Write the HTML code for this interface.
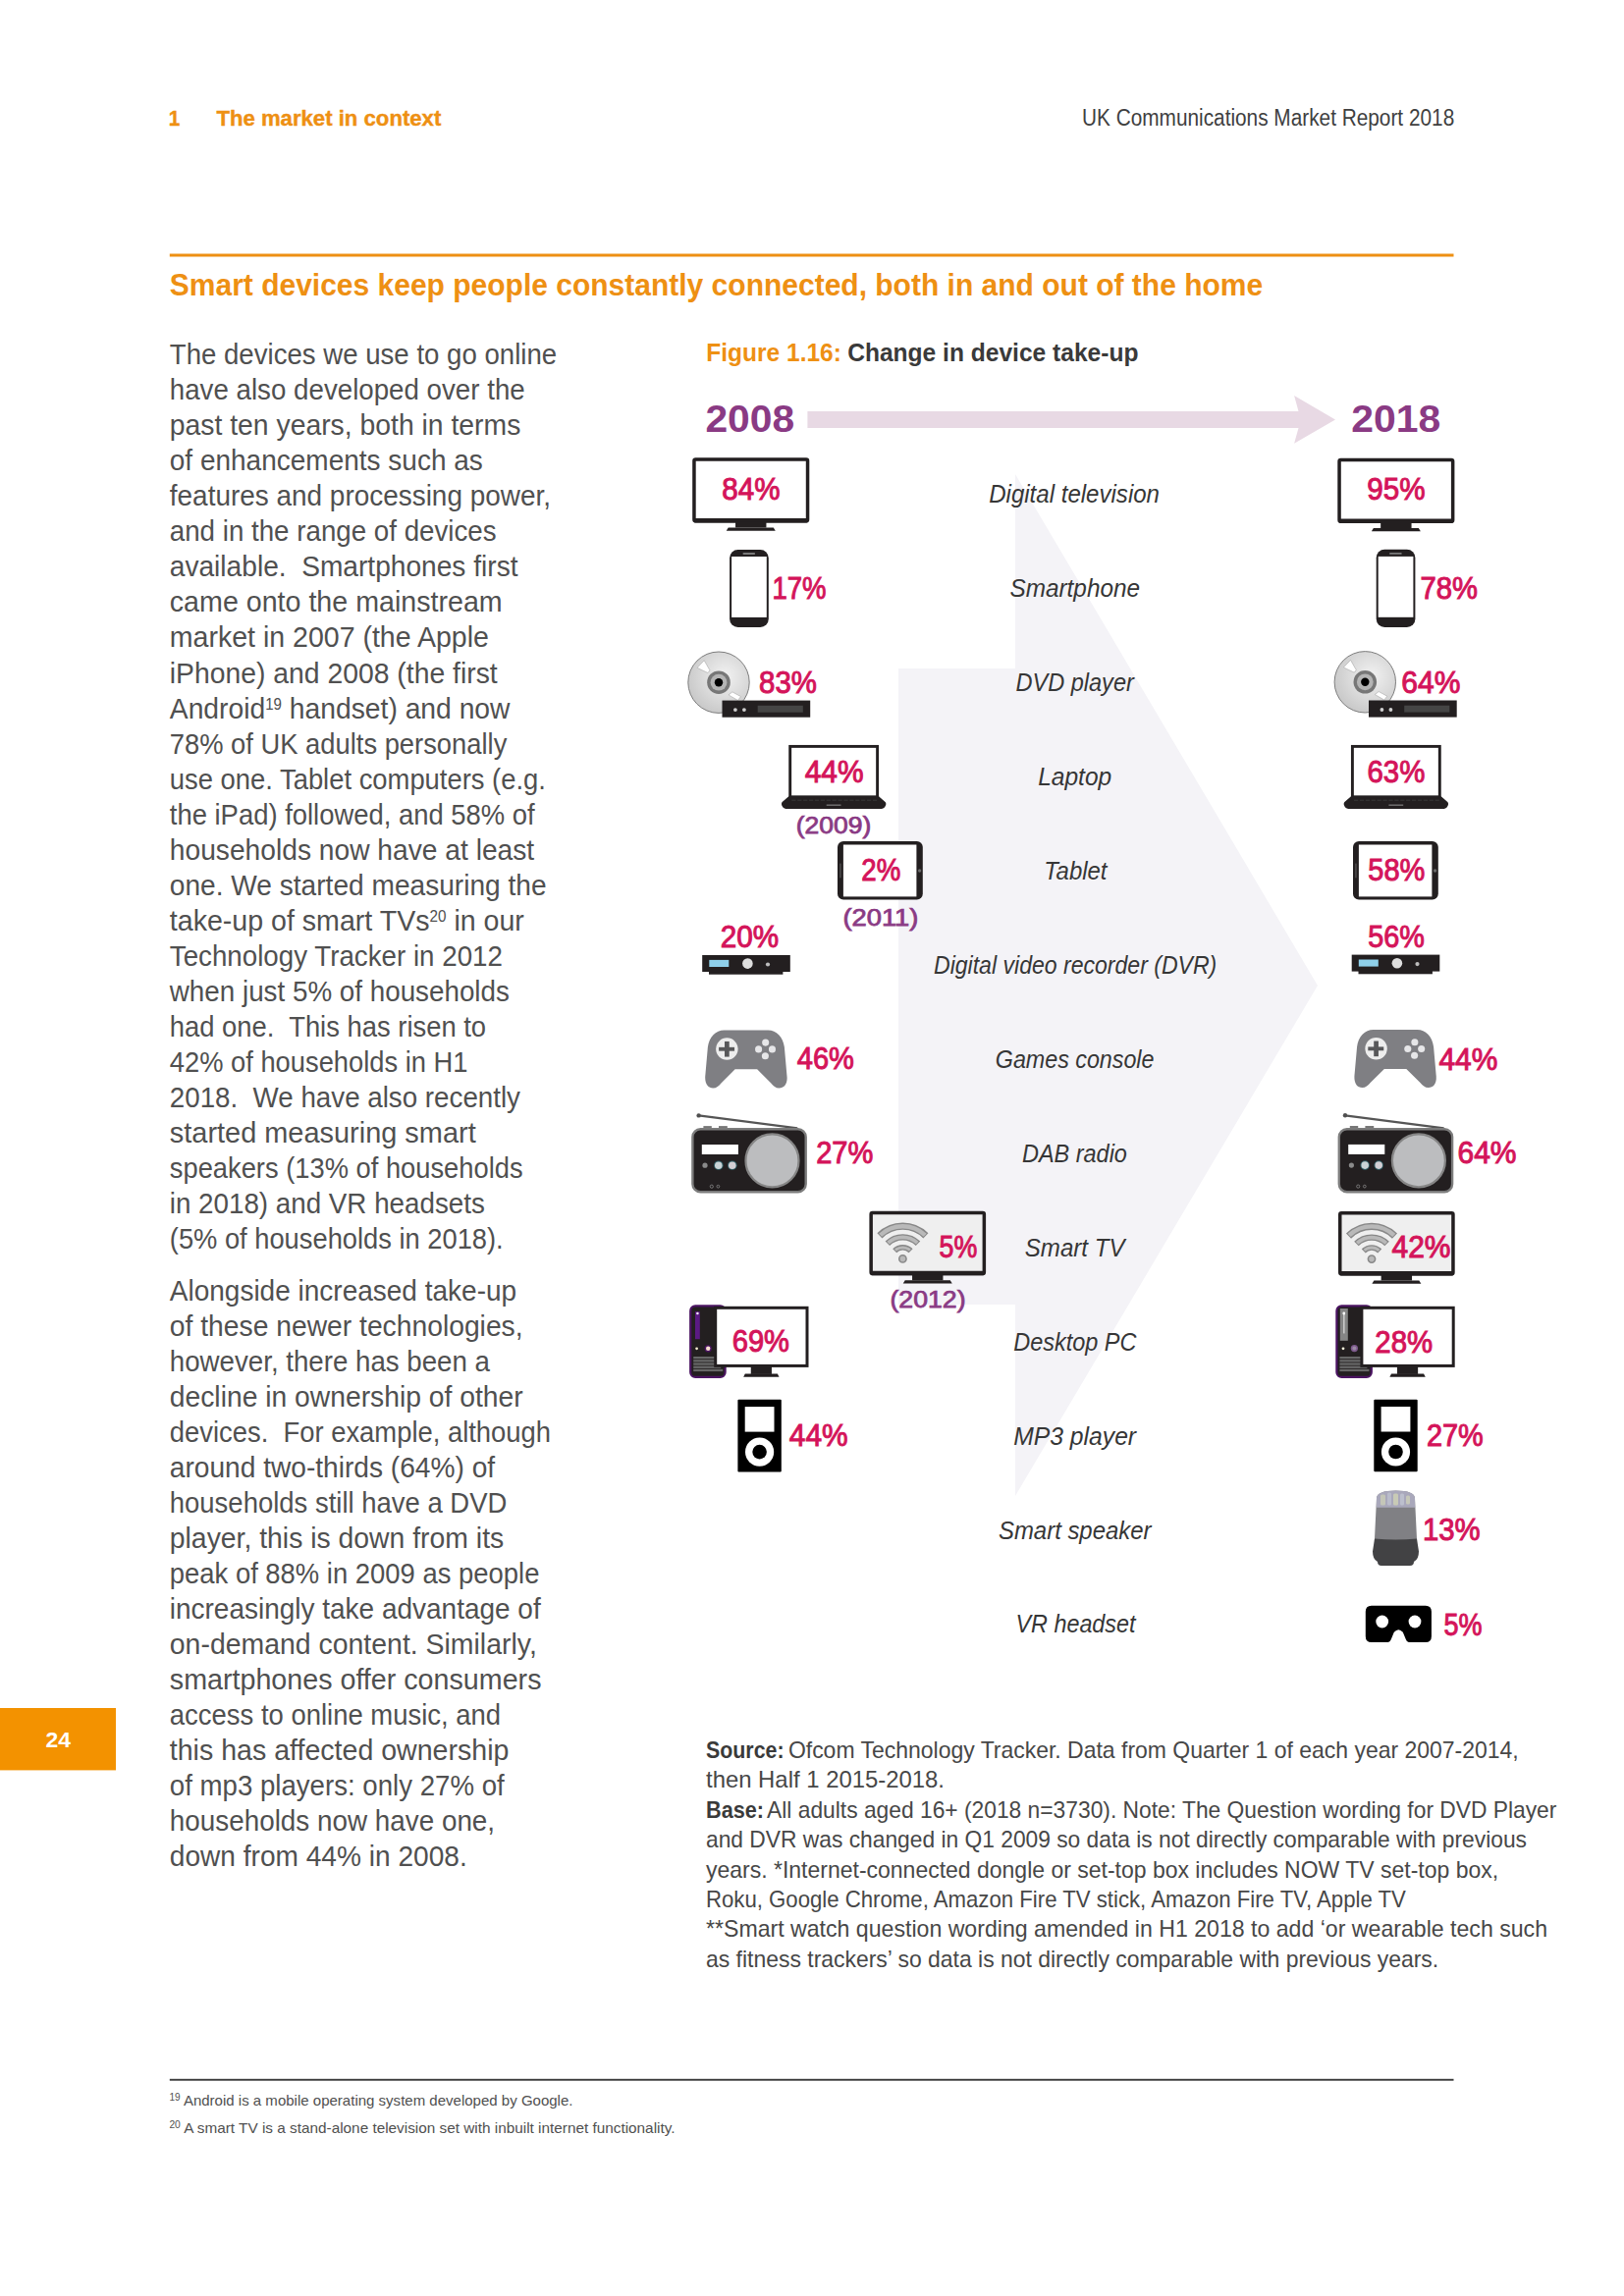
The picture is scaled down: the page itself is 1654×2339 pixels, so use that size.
<!DOCTYPE html>
<html><head><meta charset="utf-8"><title>UK Communications Market Report 2018 - page 24</title>
<style>
html,body{margin:0;padding:0;background:#ffffff;}
body{width:1654px;height:2339px;position:relative;overflow:hidden;font-family:"Liberation Sans",sans-serif;}
svg{position:absolute;left:0;top:0;}
</style></head><body>
<svg width="1654" height="2339" viewBox="0 0 1654 2339">
<defs><radialGradient id="discg" cx="0.6" cy="0.4" r="0.7"><stop offset="0" stop-color="#f2f2f2"/><stop offset="1" stop-color="#c4c4c4"/></radialGradient></defs>
<rect x="172.8" y="258.5" width="1307.7" height="3" fill="#ee9013"/>
<rect x="172.8" y="2117.8" width="1307.7" height="1.9" fill="#3a3a3a"/>
<rect x="0" y="1740" width="118" height="63.4" fill="#f39200"/>
<polygon points="1034,483 1342,1004 1034,1524 1034,1329 915,1329 915,681 1034,681" fill="#f4f3f7"/>
<polygon points="822.4,419.1 1322.5,419.1 1318.1,403.1 1360,427.5 1318.1,451.8 1322.5,436 822.4,436" fill="#e8d9e4"/>
<rect x="706.95" y="467.95" width="115.60" height="62.80" rx="1.5" fill="#ffffff" stroke="#231f20" stroke-width="3.5"/><rect x="706.70" y="527.90" width="116.10" height="4.6" rx="1" fill="#231f20"/><rect x="749.05" y="531.50" width="31.4" height="6" fill="#231f20"/><polygon points="741.75,537.50 787.75,537.50 789.75,540.80 739.75,540.80" fill="#231f20"/>
<rect x="743.10" y="559.90" width="39.7" height="79.1" rx="8.5" fill="#231f20"/><rect x="745.10" y="567.00" width="35.70" height="61.90" fill="#ffffff"/><rect x="756.50" y="563.00" width="12.6" height="1.9" rx="0.9" fill="#7a7a7a"/>
<circle cx="732.0" cy="695.2" r="31.2" fill="url(#discg)" stroke="#7d7d7d" stroke-width="1"/><polygon points="710.1,680.3000000000001 717.2,672.8000000000001 723.0,682.9000000000001 720.9,685.5" fill="#ffffff" stroke="#a8a8a8" stroke-width="0.6"/><polygon points="742.0,707.9000000000001 745.9,704.9000000000001 754.5,709.6 751.5,713.5" fill="#ffffff" stroke="#a8a8a8" stroke-width="0.6"/><circle cx="732.0" cy="695.2" r="11.8" fill="#777777"/><circle cx="732.0" cy="695.2" r="8.4" fill="#b4b4b4"/><circle cx="732.0" cy="695.2" r="4.2" fill="#000000"/><rect x="735.5" y="713.6" width="89.7" height="17.1" fill="#231f20"/><circle cx="748.90" cy="723.10" r="1.9" fill="#cfcfcf"/><circle cx="757.90" cy="723.10" r="1.9" fill="#cfcfcf"/><rect x="771.70" y="718.80" width="46.1" height="6.9" fill="#454545"/>
<rect x="804.70" y="760.40" width="88.90" height="51.40" fill="#ffffff" stroke="#231f20" stroke-width="2.9"/><path d="M803.30,811.30 L895.00,811.30 L901.60,816.90 Q903.20,818.50 901.50,821.50 Q900.00,824.10 896.00,824.10 L802.30,824.10 Q798.30,824.10 796.80,821.50 Q795.10,818.50 796.70,816.90 Z" fill="#231f20"/><rect x="806.30" y="814.70" width="4.2" height="1" fill="#3a3a3a"/><rect x="812.20" y="814.70" width="4.2" height="1" fill="#3a3a3a"/><rect x="818.10" y="814.70" width="4.2" height="1" fill="#3a3a3a"/><rect x="824.00" y="814.70" width="4.2" height="1" fill="#3a3a3a"/><rect x="829.90" y="814.70" width="4.2" height="1" fill="#3a3a3a"/><rect x="835.80" y="814.70" width="4.2" height="1" fill="#3a3a3a"/><rect x="841.70" y="814.70" width="4.2" height="1" fill="#3a3a3a"/><rect x="847.60" y="814.70" width="4.2" height="1" fill="#3a3a3a"/><rect x="853.50" y="814.70" width="4.2" height="1" fill="#3a3a3a"/><rect x="859.40" y="814.70" width="4.2" height="1" fill="#3a3a3a"/><rect x="865.30" y="814.70" width="4.2" height="1" fill="#3a3a3a"/><rect x="871.20" y="814.70" width="4.2" height="1" fill="#3a3a3a"/><rect x="877.10" y="814.70" width="4.2" height="1" fill="#3a3a3a"/><rect x="883.00" y="814.70" width="4.2" height="1" fill="#3a3a3a"/><rect x="888.90" y="814.70" width="4.2" height="1" fill="#3a3a3a"/><rect x="841.70" y="819.60" width="14.8" height="1.1" fill="#8a8a8a"/>
<rect x="853.00" y="857.10" width="86.8" height="59.4" rx="6" fill="#231f20"/><rect x="858.90" y="860.50" width="74.50" height="52.90" fill="#ffffff"/><rect x="855.50" y="879.60" width="0.9" height="14.7" fill="#6a6a6a"/><circle cx="936.60" cy="887.00" r="1.7" fill="#6a6a6a"/>
<rect x="715.20" y="973.00" width="89.6" height="17" fill="#231f20"/><rect x="722.00" y="989.00" width="75.4" height="3.7" fill="#231f20"/><rect x="722.30" y="977.90" width="20" height="7.1" fill="#8fd0ea"/><circle cx="761.40" cy="981.60" r="5.3" fill="#dedede"/><circle cx="782.00" cy="982.50" r="2.1" fill="#bdbdbd"/>
<path d="M737.42,1049.39 L782.34,1049.39 C790.62,1049.39 797.71,1056.19 798.89,1066.83 L801.55,1096.97 C802.15,1104.66 798.30,1108.50 793.57,1108.50 C790.03,1108.50 787.66,1106.43 785.30,1103.48 L771.11,1089.29 L748.65,1089.29 L734.46,1103.48 C732.10,1106.43 729.73,1108.50 726.19,1108.50 C721.46,1108.50 717.91,1104.66 718.21,1096.97 L720.87,1066.83 C722.05,1056.19 729.14,1049.39 737.42,1049.39 Z" fill="#7f7f83"/><circle cx="740.37" cy="1068.60" r="11.23" fill="#ededed"/><rect x="732.10" y="1066.83" width="15.96" height="3.84" fill="#58585a"/><rect x="738.01" y="1060.92" width="4.73" height="15.66" fill="#58585a"/><circle cx="779.68" cy="1062.10" r="3.55" fill="#e6e6e8"/><circle cx="772.59" cy="1068.90" r="3.55" fill="#e6e6e8"/><circle cx="786.48" cy="1068.90" r="3.55" fill="#e6e6e8"/><circle cx="779.39" cy="1075.69" r="3.55" fill="#e6e6e8"/>
<line x1="711.60" y1="1136.40" x2="812.20" y2="1149.40" stroke="#555555" stroke-width="2.3"/><circle cx="711.60" cy="1136.40" r="2.2" fill="#4f4f4f"/><rect x="716.40" y="1147.10" width="8.4" height="3" fill="#777"/><rect x="732.00" y="1147.10" width="8.8" height="3" fill="#777"/><rect x="705.40" y="1150.30" width="115.3" height="64" rx="8" fill="#231f20" stroke="#7c7c7c" stroke-width="2.4"/><rect x="714.80" y="1166.00" width="37.1" height="10" fill="#ffffff"/><circle cx="786.50" cy="1182.40" r="27" fill="#bcbdbf" stroke="#858585" stroke-width="2.2"/><circle cx="718.00" cy="1187.20" r="2.6" fill="#8a8a8a"/><circle cx="731.80" cy="1187.20" r="4.8" fill="#2f5f66"/><circle cx="745.80" cy="1187.20" r="4.8" fill="#2f5f66"/><circle cx="731.80" cy="1187.20" r="3.8" fill="#c9d3d6"/><circle cx="745.80" cy="1187.20" r="3.8" fill="#d3cfd4"/><circle cx="724.80" cy="1208.70" r="1.6" fill="none" stroke="#888" stroke-width="0.8"/><circle cx="731.40" cy="1208.70" r="1.4" fill="none" stroke="#888" stroke-width="0.8"/>
<rect x="887.15" y="1235.55" width="115.20" height="62.00" rx="1.5" fill="#efefef" stroke="#231f20" stroke-width="3.5"/><rect x="886.90" y="1294.70" width="115.70" height="4.6" rx="1" fill="#231f20"/><rect x="929.05" y="1298.30" width="31.4" height="6" fill="#231f20"/><polygon points="921.75,1304.30 967.75,1304.30 969.75,1307.60 919.75,1307.60" fill="#231f20"/><circle cx="919.40" cy="1282.40" r="3.6" fill="#b9b9b9" stroke="#888888" stroke-width="1.6"/><path d="M911.20,1274.20 A11.6,11.6 0 0 1 927.60,1274.20" fill="none" stroke="#888888" stroke-width="5.6"/><path d="M911.92,1273.54 A11.6,11.6 0 0 1 926.88,1273.54" fill="none" stroke="#b9b9b9" stroke-width="2.8"/><path d="M903.84,1266.84 A22.0,22.0 0 0 1 934.96,1266.84" fill="none" stroke="#888888" stroke-width="6.4"/><path d="M904.55,1266.17 A22.0,22.0 0 0 1 934.25,1266.17" fill="none" stroke="#b9b9b9" stroke-width="3.6"/><path d="M895.92,1258.92 A33.2,33.2 0 0 1 942.88,1258.92" fill="none" stroke="#888888" stroke-width="7.2"/><path d="M896.63,1258.24 A33.2,33.2 0 0 1 942.17,1258.24" fill="none" stroke="#b9b9b9" stroke-width="4.4"/>
<rect x="703.20" y="1330.40" width="35.4" height="72.5" rx="5" fill="#231f20" stroke="#4b1462" stroke-width="2.2"/><rect x="708.00" y="1336.20" width="4.8" height="28" fill="#5b1a84"/><circle cx="710.40" cy="1338.00" r="1.3" fill="#f3e6f5"/><circle cx="709.60" cy="1373.80" r="1.4" fill="#f4ecd0"/><circle cx="721.20" cy="1373.80" r="3.6" fill="#4b1462"/><circle cx="721.20" cy="1373.80" r="2.2" fill="#f7e0d0"/><rect x="706.20" y="1382.00" width="28" height="2.3" fill="#676767"/><rect x="706.20" y="1385.20" width="28" height="2.3" fill="#676767"/><rect x="706.20" y="1388.40" width="28" height="2.3" fill="#676767"/><rect x="706.20" y="1391.60" width="28" height="2.3" fill="#676767"/><rect x="706.20" y="1394.80" width="30" height="2.3" fill="#676767"/><rect x="728.70" y="1332.30" width="93.30" height="59.10" fill="#ffffff" stroke="#231f20" stroke-width="3"/><rect x="764.75" y="1391.90" width="21.2" height="8" fill="#231f20"/><polygon points="758.85,1399.40 791.85,1399.40 793.55,1402.70 757.15,1402.70" fill="#231f20"/>
<rect x="751.40" y="1425.80" width="44.4" height="73.6" rx="1" fill="#000000"/><rect x="758.70" y="1433.10" width="29.80" height="25.5" fill="#ffffff"/><circle cx="773.60" cy="1479.10" r="14.6" fill="#ffffff"/><circle cx="773.60" cy="1479.10" r="7.3" fill="#000000"/>
<rect x="1364.05" y="468.45" width="115.60" height="62.80" rx="1.5" fill="#ffffff" stroke="#231f20" stroke-width="3.5"/><rect x="1363.80" y="528.40" width="116.10" height="4.6" rx="1" fill="#231f20"/><rect x="1406.15" y="532.00" width="31.4" height="6" fill="#231f20"/><polygon points="1398.85,538.00 1444.85,538.00 1446.85,541.30 1396.85,541.30" fill="#231f20"/>
<rect x="1401.70" y="559.80" width="39.7" height="79.1" rx="8.5" fill="#231f20"/><rect x="1403.70" y="566.90" width="35.70" height="61.90" fill="#ffffff"/><rect x="1415.10" y="562.90" width="12.6" height="1.9" rx="0.9" fill="#7a7a7a"/>
<circle cx="1390.3" cy="694.8" r="31.2" fill="url(#discg)" stroke="#7d7d7d" stroke-width="1"/><polygon points="1368.3999999999999,679.9 1375.5,672.4 1381.3,682.5 1379.2,685.0999999999999" fill="#ffffff" stroke="#a8a8a8" stroke-width="0.6"/><polygon points="1400.3,707.5 1404.2,704.5 1412.8,709.1999999999999 1409.8,713.0999999999999" fill="#ffffff" stroke="#a8a8a8" stroke-width="0.6"/><circle cx="1390.3" cy="694.8" r="11.8" fill="#777777"/><circle cx="1390.3" cy="694.8" r="8.4" fill="#b4b4b4"/><circle cx="1390.3" cy="694.8" r="4.2" fill="#000000"/><rect x="1394.0" y="713.5" width="89.7" height="17.1" fill="#231f20"/><circle cx="1407.40" cy="723.00" r="1.9" fill="#cfcfcf"/><circle cx="1416.40" cy="723.00" r="1.9" fill="#cfcfcf"/><rect x="1430.20" y="718.70" width="46.1" height="6.9" fill="#454545"/>
<rect x="1377.40" y="760.40" width="88.90" height="51.40" fill="#ffffff" stroke="#231f20" stroke-width="2.9"/><path d="M1376.00,811.30 L1467.70,811.30 L1474.30,816.90 Q1475.90,818.50 1474.20,821.50 Q1472.70,824.10 1468.70,824.10 L1375.00,824.10 Q1371.00,824.10 1369.50,821.50 Q1367.80,818.50 1369.40,816.90 Z" fill="#231f20"/><rect x="1379.00" y="814.70" width="4.2" height="1" fill="#3a3a3a"/><rect x="1384.90" y="814.70" width="4.2" height="1" fill="#3a3a3a"/><rect x="1390.80" y="814.70" width="4.2" height="1" fill="#3a3a3a"/><rect x="1396.70" y="814.70" width="4.2" height="1" fill="#3a3a3a"/><rect x="1402.60" y="814.70" width="4.2" height="1" fill="#3a3a3a"/><rect x="1408.50" y="814.70" width="4.2" height="1" fill="#3a3a3a"/><rect x="1414.40" y="814.70" width="4.2" height="1" fill="#3a3a3a"/><rect x="1420.30" y="814.70" width="4.2" height="1" fill="#3a3a3a"/><rect x="1426.20" y="814.70" width="4.2" height="1" fill="#3a3a3a"/><rect x="1432.10" y="814.70" width="4.2" height="1" fill="#3a3a3a"/><rect x="1438.00" y="814.70" width="4.2" height="1" fill="#3a3a3a"/><rect x="1443.90" y="814.70" width="4.2" height="1" fill="#3a3a3a"/><rect x="1449.80" y="814.70" width="4.2" height="1" fill="#3a3a3a"/><rect x="1455.70" y="814.70" width="4.2" height="1" fill="#3a3a3a"/><rect x="1461.60" y="814.70" width="4.2" height="1" fill="#3a3a3a"/><rect x="1414.40" y="819.60" width="14.8" height="1.1" fill="#8a8a8a"/>
<rect x="1378.00" y="857.10" width="86.8" height="59.4" rx="6" fill="#231f20"/><rect x="1383.90" y="860.50" width="74.50" height="52.90" fill="#ffffff"/><rect x="1380.50" y="879.60" width="0.9" height="14.7" fill="#6a6a6a"/><circle cx="1461.60" cy="887.00" r="1.7" fill="#6a6a6a"/>
<rect x="1376.70" y="972.60" width="89.6" height="17" fill="#231f20"/><rect x="1383.50" y="988.60" width="75.4" height="3.7" fill="#231f20"/><rect x="1383.80" y="977.50" width="20" height="7.1" fill="#8fd0ea"/><circle cx="1422.90" cy="981.20" r="5.3" fill="#dedede"/><circle cx="1443.50" cy="982.10" r="2.1" fill="#bdbdbd"/>
<path d="M1398.62,1048.99 L1443.54,1048.99 C1451.82,1048.99 1458.91,1055.79 1460.09,1066.43 L1462.75,1096.57 C1463.35,1104.26 1459.50,1108.10 1454.77,1108.10 C1451.23,1108.10 1448.86,1106.03 1446.50,1103.08 L1432.31,1088.89 L1409.85,1088.89 L1395.66,1103.08 C1393.30,1106.03 1390.93,1108.10 1387.39,1108.10 C1382.66,1108.10 1379.11,1104.26 1379.41,1096.57 L1382.07,1066.43 C1383.25,1055.79 1390.34,1048.99 1398.62,1048.99 Z" fill="#7f7f83"/><circle cx="1401.57" cy="1068.20" r="11.23" fill="#ededed"/><rect x="1393.30" y="1066.43" width="15.96" height="3.84" fill="#58585a"/><rect x="1399.21" y="1060.52" width="4.73" height="15.66" fill="#58585a"/><circle cx="1440.88" cy="1061.70" r="3.55" fill="#e6e6e8"/><circle cx="1433.79" cy="1068.50" r="3.55" fill="#e6e6e8"/><circle cx="1447.68" cy="1068.50" r="3.55" fill="#e6e6e8"/><circle cx="1440.59" cy="1075.29" r="3.55" fill="#e6e6e8"/>
<line x1="1370.00" y1="1136.30" x2="1470.60" y2="1149.30" stroke="#555555" stroke-width="2.3"/><circle cx="1370.00" cy="1136.30" r="2.2" fill="#4f4f4f"/><rect x="1374.80" y="1147.00" width="8.4" height="3" fill="#777"/><rect x="1390.40" y="1147.00" width="8.8" height="3" fill="#777"/><rect x="1363.80" y="1150.20" width="115.3" height="64" rx="8" fill="#231f20" stroke="#7c7c7c" stroke-width="2.4"/><rect x="1373.20" y="1165.90" width="37.1" height="10" fill="#ffffff"/><circle cx="1444.90" cy="1182.30" r="27" fill="#bcbdbf" stroke="#858585" stroke-width="2.2"/><circle cx="1376.40" cy="1187.10" r="2.6" fill="#8a8a8a"/><circle cx="1390.20" cy="1187.10" r="4.8" fill="#2f5f66"/><circle cx="1404.20" cy="1187.10" r="4.8" fill="#2f5f66"/><circle cx="1390.20" cy="1187.10" r="3.8" fill="#c9d3d6"/><circle cx="1404.20" cy="1187.10" r="3.8" fill="#d3cfd4"/><circle cx="1383.20" cy="1208.60" r="1.6" fill="none" stroke="#888" stroke-width="0.8"/><circle cx="1389.80" cy="1208.60" r="1.4" fill="none" stroke="#888" stroke-width="0.8"/>
<rect x="1364.75" y="1235.75" width="115.20" height="62.00" rx="1.5" fill="#efefef" stroke="#231f20" stroke-width="3.5"/><rect x="1364.50" y="1294.90" width="115.70" height="4.6" rx="1" fill="#231f20"/><rect x="1406.65" y="1298.50" width="31.4" height="6" fill="#231f20"/><polygon points="1399.35,1304.50 1445.35,1304.50 1447.35,1307.80 1397.35,1307.80" fill="#231f20"/><circle cx="1397.00" cy="1282.60" r="3.6" fill="#b9b9b9" stroke="#888888" stroke-width="1.6"/><path d="M1388.80,1274.40 A11.6,11.6 0 0 1 1405.20,1274.40" fill="none" stroke="#888888" stroke-width="5.6"/><path d="M1389.52,1273.74 A11.6,11.6 0 0 1 1404.48,1273.74" fill="none" stroke="#b9b9b9" stroke-width="2.8"/><path d="M1381.44,1267.04 A22.0,22.0 0 0 1 1412.56,1267.04" fill="none" stroke="#888888" stroke-width="6.4"/><path d="M1382.15,1266.37 A22.0,22.0 0 0 1 1411.85,1266.37" fill="none" stroke="#b9b9b9" stroke-width="3.6"/><path d="M1373.52,1259.12 A33.2,33.2 0 0 1 1420.48,1259.12" fill="none" stroke="#888888" stroke-width="7.2"/><path d="M1374.23,1258.44 A33.2,33.2 0 0 1 1419.77,1258.44" fill="none" stroke="#b9b9b9" stroke-width="4.4"/>
<rect x="1361.40" y="1330.40" width="35.4" height="72.5" rx="5" fill="#231f20" stroke="#4b1462" stroke-width="2.2"/><rect x="1364.80" y="1333.00" width="8" height="32.8" fill="#858585"/><rect x="1368.00" y="1337.40" width="1.6" height="21" fill="#c8c8c8"/><circle cx="1368.80" cy="1338.00" r="1.4" fill="#ffffff"/><circle cx="1368.00" cy="1373.80" r="1.4" fill="#fffbe0"/><circle cx="1379.40" cy="1373.60" r="3.6" fill="#7d5a8c"/><circle cx="1379.40" cy="1373.60" r="2" fill="#9b8aa5"/><rect x="1364.40" y="1382.00" width="28" height="2.3" fill="#676767"/><rect x="1364.40" y="1385.20" width="28" height="2.3" fill="#676767"/><rect x="1364.40" y="1388.40" width="28" height="2.3" fill="#676767"/><rect x="1364.40" y="1391.60" width="28" height="2.3" fill="#676767"/><rect x="1364.40" y="1394.80" width="30" height="2.3" fill="#676767"/><rect x="1386.90" y="1332.30" width="93.30" height="59.10" fill="#ffffff" stroke="#231f20" stroke-width="3"/><rect x="1422.95" y="1391.90" width="21.2" height="8" fill="#231f20"/><polygon points="1417.05,1399.40 1450.05,1399.40 1451.75,1402.70 1415.35,1402.70" fill="#231f20"/>
<rect x="1399.30" y="1425.70" width="44.4" height="73.6" rx="1" fill="#000000"/><rect x="1406.60" y="1433.00" width="29.80" height="25.5" fill="#ffffff"/><circle cx="1421.50" cy="1479.00" r="14.6" fill="#ffffff"/><circle cx="1421.50" cy="1479.00" r="7.3" fill="#000000"/>
<path d="M1402.00,1526.50 Q1402.00,1518.5 1421.50,1518.5 Q1441.00,1518.5 1441.00,1526.50 L1443.10,1569.50 L1399.90,1569.50 Z" fill="#808084"/><path d="M1402.00,1526.50 Q1402.00,1518.5 1421.50,1518.5 Q1441.00,1518.5 1441.00,1526.50 L1441.20,1535.70 L1401.80,1535.70 Z" fill="#a9a8bb"/><rect x="1406.00" y="1522.50" width="5" height="11" rx="1.5" fill="#c4c6b8"/><rect x="1413.00" y="1520.50" width="4" height="13" rx="1.5" fill="#b9bccb"/><rect x="1419.00" y="1521.50" width="5" height="12" rx="1.5" fill="#c8cab6"/><rect x="1426.00" y="1521.50" width="4" height="12" rx="1.5" fill="#bcbfcd"/><rect x="1432.00" y="1523.50" width="4" height="9" rx="1.5" fill="#c6c8b9"/><path d="M1400.00,1567.50 Q1421.50,1569.30 1443.00,1567.50 L1445.00,1580.50 Q1445.00,1588.50 1440.00,1591.00 Q1440.00,1595.00 1436.00,1595.00 L1407.00,1595.00 Q1403.00,1595.00 1403.00,1591.00 Q1398.0,1588.50 1398.0,1580.50 Z" fill="#424244"/>
<path d="M1396.80,1635.70 L1451.90,1635.70 Q1457.90,1635.70 1457.90,1641.70 L1457.90,1667.00 Q1457.90,1673.00 1451.90,1673.00 L1434.80,1673.00 Q1432.80,1673.00 1431.80,1670.00 L1428.80,1662.70 Q1424.30,1657.70 1419.80,1662.70 L1416.80,1670.00 Q1415.80,1673.00 1413.80,1673.00 L1396.80,1673.00 Q1390.80,1673.00 1390.80,1667.00 L1390.80,1641.70 Q1390.80,1635.70 1396.80,1635.70 Z" fill="#000000"/><circle cx="1407.70" cy="1652.00" r="6.4" fill="#ffffff"/><circle cx="1441.00" cy="1652.00" r="6.4" fill="#ffffff"/>
<text style="white-space:pre" x="171.8" y="128.0" font-size="22" font-weight="bold" font-style="normal" fill="#ee9013" stroke="#ee9013" stroke-width="0.4" font-family="Liberation Sans" textLength="11.5" lengthAdjust="spacingAndGlyphs">1</text>
<text style="white-space:pre" x="220.4" y="128.0" font-size="22" font-weight="bold" font-style="normal" fill="#ee9013" stroke="#ee9013" stroke-width="0.4" font-family="Liberation Sans" textLength="228.9" lengthAdjust="spacingAndGlyphs">The market in context</text>
<text style="white-space:pre" x="1102.0" y="128.0" font-size="23" font-weight="normal" font-style="normal" fill="#3f3f3f" font-family="Liberation Sans" textLength="379.2" lengthAdjust="spacingAndGlyphs">UK Communications Market Report 2018</text>
<text style="white-space:pre" x="172.8" y="301.2" font-size="32" font-weight="bold" font-style="normal" fill="#ee9013" font-family="Liberation Sans" textLength="1113.4" lengthAdjust="spacingAndGlyphs">Smart devices keep people constantly connected, both in and out of the home</text>
<text style="white-space:pre" x="172.8" y="371.0" font-size="30" font-weight="normal" font-style="normal" fill="#505050" font-family="Liberation Sans" textLength="394.3" lengthAdjust="spacingAndGlyphs">The devices we use to go online</text>
<text style="white-space:pre" x="172.8" y="407.1" font-size="30" font-weight="normal" font-style="normal" fill="#505050" font-family="Liberation Sans" textLength="361.9" lengthAdjust="spacingAndGlyphs">have also developed over the</text>
<text style="white-space:pre" x="172.8" y="443.1" font-size="30" font-weight="normal" font-style="normal" fill="#505050" font-family="Liberation Sans" textLength="357.5" lengthAdjust="spacingAndGlyphs">past ten years, both in terms</text>
<text style="white-space:pre" x="172.8" y="479.1" font-size="30" font-weight="normal" font-style="normal" fill="#505050" font-family="Liberation Sans" textLength="319.0" lengthAdjust="spacingAndGlyphs">of enhancements such as</text>
<text style="white-space:pre" x="172.8" y="515.2" font-size="30" font-weight="normal" font-style="normal" fill="#505050" font-family="Liberation Sans" textLength="388.2" lengthAdjust="spacingAndGlyphs">features and processing power,</text>
<text style="white-space:pre" x="172.8" y="551.2" font-size="30" font-weight="normal" font-style="normal" fill="#505050" font-family="Liberation Sans" textLength="332.8" lengthAdjust="spacingAndGlyphs">and in the range of devices</text>
<text style="white-space:pre" x="172.8" y="587.3" font-size="30" font-weight="normal" font-style="normal" fill="#505050" font-family="Liberation Sans" textLength="354.7" lengthAdjust="spacingAndGlyphs">available.  Smartphones first</text>
<text style="white-space:pre" x="172.8" y="623.3" font-size="30" font-weight="normal" font-style="normal" fill="#505050" font-family="Liberation Sans" textLength="338.9" lengthAdjust="spacingAndGlyphs">came onto the mainstream</text>
<text style="white-space:pre" x="172.8" y="659.4" font-size="30" font-weight="normal" font-style="normal" fill="#505050" font-family="Liberation Sans" textLength="325.1" lengthAdjust="spacingAndGlyphs">market in 2007 (the Apple</text>
<text style="white-space:pre" x="172.8" y="695.5" font-size="30" font-weight="normal" font-style="normal" fill="#505050" font-family="Liberation Sans" textLength="333.9" lengthAdjust="spacingAndGlyphs">iPhone) and 2008 (the first</text>
<text style="white-space:pre" x="172.8" y="731.5" font-size="30" font-weight="normal" font-style="normal" fill="#505050" font-family="Liberation Sans" textLength="346.7" lengthAdjust="spacingAndGlyphs">Android<tspan font-size="16" dy="-8.5">19</tspan><tspan dy="8.5"> handset) and now</tspan></text>
<text style="white-space:pre" x="172.8" y="767.5" font-size="30" font-weight="normal" font-style="normal" fill="#505050" font-family="Liberation Sans" textLength="343.5" lengthAdjust="spacingAndGlyphs">78% of UK adults personally</text>
<text style="white-space:pre" x="172.8" y="803.6" font-size="30" font-weight="normal" font-style="normal" fill="#505050" font-family="Liberation Sans" textLength="383.1" lengthAdjust="spacingAndGlyphs">use one. Tablet computers (e.g.</text>
<text style="white-space:pre" x="172.8" y="839.6" font-size="30" font-weight="normal" font-style="normal" fill="#505050" font-family="Liberation Sans" textLength="371.9" lengthAdjust="spacingAndGlyphs">the iPad) followed, and 58% of</text>
<text style="white-space:pre" x="172.8" y="875.7" font-size="30" font-weight="normal" font-style="normal" fill="#505050" font-family="Liberation Sans" textLength="371.4" lengthAdjust="spacingAndGlyphs">households now have at least</text>
<text style="white-space:pre" x="172.8" y="911.8" font-size="30" font-weight="normal" font-style="normal" fill="#505050" font-family="Liberation Sans" textLength="383.8" lengthAdjust="spacingAndGlyphs">one. We started measuring the</text>
<text style="white-space:pre" x="172.8" y="947.8" font-size="30" font-weight="normal" font-style="normal" fill="#505050" font-family="Liberation Sans" textLength="361.1" lengthAdjust="spacingAndGlyphs">take-up of smart TVs<tspan font-size="16" dy="-8.5">20</tspan><tspan dy="8.5"> in our</tspan></text>
<text style="white-space:pre" x="172.8" y="983.8" font-size="30" font-weight="normal" font-style="normal" fill="#505050" font-family="Liberation Sans" textLength="339.1" lengthAdjust="spacingAndGlyphs">Technology Tracker in 2012</text>
<text style="white-space:pre" x="172.8" y="1019.9" font-size="30" font-weight="normal" font-style="normal" fill="#505050" font-family="Liberation Sans" textLength="346.1" lengthAdjust="spacingAndGlyphs">when just 5% of households</text>
<text style="white-space:pre" x="172.8" y="1055.9" font-size="30" font-weight="normal" font-style="normal" fill="#505050" font-family="Liberation Sans" textLength="322.3" lengthAdjust="spacingAndGlyphs">had one.  This has risen to</text>
<text style="white-space:pre" x="172.8" y="1092.0" font-size="30" font-weight="normal" font-style="normal" fill="#505050" font-family="Liberation Sans" textLength="303.7" lengthAdjust="spacingAndGlyphs">42% of households in H1</text>
<text style="white-space:pre" x="172.8" y="1128.0" font-size="30" font-weight="normal" font-style="normal" fill="#505050" font-family="Liberation Sans" textLength="357.2" lengthAdjust="spacingAndGlyphs">2018.  We have also recently</text>
<text style="white-space:pre" x="172.8" y="1164.1" font-size="30" font-weight="normal" font-style="normal" fill="#505050" font-family="Liberation Sans" textLength="311.9" lengthAdjust="spacingAndGlyphs">started measuring smart</text>
<text style="white-space:pre" x="172.8" y="1200.2" font-size="30" font-weight="normal" font-style="normal" fill="#505050" font-family="Liberation Sans" textLength="359.8" lengthAdjust="spacingAndGlyphs">speakers (13% of households</text>
<text style="white-space:pre" x="172.8" y="1236.2" font-size="30" font-weight="normal" font-style="normal" fill="#505050" font-family="Liberation Sans" textLength="321.0" lengthAdjust="spacingAndGlyphs">in 2018) and VR headsets</text>
<text style="white-space:pre" x="172.8" y="1272.2" font-size="30" font-weight="normal" font-style="normal" fill="#505050" font-family="Liberation Sans" textLength="339.9" lengthAdjust="spacingAndGlyphs">(5% of households in 2018).</text>
<text style="white-space:pre" x="172.8" y="1324.6" font-size="30" font-weight="normal" font-style="normal" fill="#505050" font-family="Liberation Sans" textLength="353.3" lengthAdjust="spacingAndGlyphs">Alongside increased take-up</text>
<text style="white-space:pre" x="172.8" y="1360.6" font-size="30" font-weight="normal" font-style="normal" fill="#505050" font-family="Liberation Sans" textLength="359.8" lengthAdjust="spacingAndGlyphs">of these newer technologies,</text>
<text style="white-space:pre" x="172.8" y="1396.7" font-size="30" font-weight="normal" font-style="normal" fill="#505050" font-family="Liberation Sans" textLength="326.2" lengthAdjust="spacingAndGlyphs">however, there has been a</text>
<text style="white-space:pre" x="172.8" y="1432.8" font-size="30" font-weight="normal" font-style="normal" fill="#505050" font-family="Liberation Sans" textLength="359.8" lengthAdjust="spacingAndGlyphs">decline in ownership of other</text>
<text style="white-space:pre" x="172.8" y="1468.8" font-size="30" font-weight="normal" font-style="normal" fill="#505050" font-family="Liberation Sans" textLength="388.2" lengthAdjust="spacingAndGlyphs">devices.  For example, although</text>
<text style="white-space:pre" x="172.8" y="1504.8" font-size="30" font-weight="normal" font-style="normal" fill="#505050" font-family="Liberation Sans" textLength="331.3" lengthAdjust="spacingAndGlyphs">around two-thirds (64%) of</text>
<text style="white-space:pre" x="172.8" y="1540.9" font-size="30" font-weight="normal" font-style="normal" fill="#505050" font-family="Liberation Sans" textLength="343.5" lengthAdjust="spacingAndGlyphs">households still have a DVD</text>
<text style="white-space:pre" x="172.8" y="1576.9" font-size="30" font-weight="normal" font-style="normal" fill="#505050" font-family="Liberation Sans" textLength="340.4" lengthAdjust="spacingAndGlyphs">player, this is down from its</text>
<text style="white-space:pre" x="172.8" y="1613.0" font-size="30" font-weight="normal" font-style="normal" fill="#505050" font-family="Liberation Sans" textLength="376.6" lengthAdjust="spacingAndGlyphs">peak of 88% in 2009 as people</text>
<text style="white-space:pre" x="172.8" y="1649.0" font-size="30" font-weight="normal" font-style="normal" fill="#505050" font-family="Liberation Sans" textLength="377.9" lengthAdjust="spacingAndGlyphs">increasingly take advantage of</text>
<text style="white-space:pre" x="172.8" y="1685.1" font-size="30" font-weight="normal" font-style="normal" fill="#505050" font-family="Liberation Sans" textLength="374.0" lengthAdjust="spacingAndGlyphs">on-demand content. Similarly,</text>
<text style="white-space:pre" x="172.8" y="1721.1" font-size="30" font-weight="normal" font-style="normal" fill="#505050" font-family="Liberation Sans" textLength="378.7" lengthAdjust="spacingAndGlyphs">smartphones offer consumers</text>
<text style="white-space:pre" x="172.8" y="1757.2" font-size="30" font-weight="normal" font-style="normal" fill="#505050" font-family="Liberation Sans" textLength="337.3" lengthAdjust="spacingAndGlyphs">access to online music, and</text>
<text style="white-space:pre" x="172.8" y="1793.2" font-size="30" font-weight="normal" font-style="normal" fill="#505050" font-family="Liberation Sans" textLength="345.6" lengthAdjust="spacingAndGlyphs">this has affected ownership</text>
<text style="white-space:pre" x="172.8" y="1829.3" font-size="30" font-weight="normal" font-style="normal" fill="#505050" font-family="Liberation Sans" textLength="340.9" lengthAdjust="spacingAndGlyphs">of mp3 players: only 27% of</text>
<text style="white-space:pre" x="172.8" y="1865.3" font-size="30" font-weight="normal" font-style="normal" fill="#505050" font-family="Liberation Sans" textLength="331.3" lengthAdjust="spacingAndGlyphs">households now have one,</text>
<text style="white-space:pre" x="172.8" y="1901.4" font-size="30" font-weight="normal" font-style="normal" fill="#505050" font-family="Liberation Sans" textLength="302.9" lengthAdjust="spacingAndGlyphs">down from 44% in 2008.</text>
<text style="white-space:pre" x="719.3" y="367.9" font-size="26" font-weight="bold" font-style="normal" fill="#ee9013" font-family="Liberation Sans" textLength="137.6" lengthAdjust="spacingAndGlyphs">Figure 1.16:</text>
<text style="white-space:pre" x="863.2" y="367.9" font-size="26" font-weight="bold" font-style="normal" fill="#3a3a3a" font-family="Liberation Sans" textLength="296.3" lengthAdjust="spacingAndGlyphs">Change in device take-up</text>
<text style="white-space:pre" x="718.4" y="440.0" font-size="38" font-weight="bold" font-style="normal" fill="#8a3a84" font-family="Liberation Sans" textLength="90.7" lengthAdjust="spacingAndGlyphs">2008</text>
<text style="white-space:pre" x="1376.3" y="440.0" font-size="38" font-weight="bold" font-style="normal" fill="#8a3a84" font-family="Liberation Sans" textLength="91.0" lengthAdjust="spacingAndGlyphs">2018</text>
<text style="white-space:pre" x="1007.2" y="511.8" font-size="26" font-weight="normal" font-style="italic" fill="#363636" font-family="Liberation Sans" textLength="173.8" lengthAdjust="spacingAndGlyphs">Digital television</text>
<text style="white-space:pre" x="1028.5" y="607.8" font-size="26" font-weight="normal" font-style="italic" fill="#363636" font-family="Liberation Sans" textLength="132.5" lengthAdjust="spacingAndGlyphs">Smartphone</text>
<text style="white-space:pre" x="1034.5" y="703.7" font-size="26" font-weight="normal" font-style="italic" fill="#363636" font-family="Liberation Sans" textLength="120.3" lengthAdjust="spacingAndGlyphs">DVD player</text>
<text style="white-space:pre" x="1057.2" y="799.7" font-size="26" font-weight="normal" font-style="italic" fill="#363636" font-family="Liberation Sans" textLength="75.0" lengthAdjust="spacingAndGlyphs">Laptop</text>
<text style="white-space:pre" x="1063.2" y="895.7" font-size="26" font-weight="normal" font-style="italic" fill="#363636" font-family="Liberation Sans" textLength="64.3" lengthAdjust="spacingAndGlyphs">Tablet</text>
<text style="white-space:pre" x="951.0" y="991.7" font-size="26" font-weight="normal" font-style="italic" fill="#363636" font-family="Liberation Sans" textLength="288.3" lengthAdjust="spacingAndGlyphs">Digital video recorder (DVR)</text>
<text style="white-space:pre" x="1013.8" y="1087.6" font-size="26" font-weight="normal" font-style="italic" fill="#363636" font-family="Liberation Sans" textLength="161.7" lengthAdjust="spacingAndGlyphs">Games console</text>
<text style="white-space:pre" x="1041.0" y="1183.6" font-size="26" font-weight="normal" font-style="italic" fill="#363636" font-family="Liberation Sans" textLength="106.9" lengthAdjust="spacingAndGlyphs">DAB radio</text>
<text style="white-space:pre" x="1043.8" y="1279.6" font-size="26" font-weight="normal" font-style="italic" fill="#363636" font-family="Liberation Sans" textLength="101.7" lengthAdjust="spacingAndGlyphs">Smart TV</text>
<text style="white-space:pre" x="1032.2" y="1375.5" font-size="26" font-weight="normal" font-style="italic" fill="#363636" font-family="Liberation Sans" textLength="125.3" lengthAdjust="spacingAndGlyphs">Desktop PC</text>
<text style="white-space:pre" x="1032.2" y="1471.5" font-size="26" font-weight="normal" font-style="italic" fill="#363636" font-family="Liberation Sans" textLength="124.9" lengthAdjust="spacingAndGlyphs">MP3 player</text>
<text style="white-space:pre" x="1017.0" y="1567.5" font-size="26" font-weight="normal" font-style="italic" fill="#363636" font-family="Liberation Sans" textLength="155.5" lengthAdjust="spacingAndGlyphs">Smart speaker</text>
<text style="white-space:pre" x="1034.5" y="1663.4" font-size="26" font-weight="normal" font-style="italic" fill="#363636" font-family="Liberation Sans" textLength="122.0" lengthAdjust="spacingAndGlyphs">VR headset</text>
<text style="white-space:pre" x="735.3" y="509.0" font-size="31" font-weight="normal" font-style="normal" fill="#d4145a" stroke="#d4145a" stroke-width="1.0" font-family="Liberation Sans" textLength="59.1" lengthAdjust="spacingAndGlyphs">84%</text>
<text style="white-space:pre" x="786.5" y="610.0" font-size="31" font-weight="normal" font-style="normal" fill="#d4145a" stroke="#d4145a" stroke-width="1.0" font-family="Liberation Sans" textLength="55.0" lengthAdjust="spacingAndGlyphs">17%</text>
<text style="white-space:pre" x="773.1" y="705.8" font-size="31" font-weight="normal" font-style="normal" fill="#d4145a" stroke="#d4145a" stroke-width="1.0" font-family="Liberation Sans" textLength="58.8" lengthAdjust="spacingAndGlyphs">83%</text>
<text style="white-space:pre" x="819.7" y="797.0" font-size="31" font-weight="normal" font-style="normal" fill="#d4145a" stroke="#d4145a" stroke-width="1.0" font-family="Liberation Sans" textLength="59.8" lengthAdjust="spacingAndGlyphs">44%</text>
<text style="white-space:pre" x="877.3" y="897.4" font-size="31" font-weight="normal" font-style="normal" fill="#d4145a" stroke="#d4145a" stroke-width="1.0" font-family="Liberation Sans" textLength="39.9" lengthAdjust="spacingAndGlyphs">2%</text>
<text style="white-space:pre" x="733.8" y="964.9" font-size="31" font-weight="normal" font-style="normal" fill="#d4145a" stroke="#d4145a" stroke-width="1.0" font-family="Liberation Sans" textLength="59.4" lengthAdjust="spacingAndGlyphs">20%</text>
<text style="white-space:pre" x="811.8" y="1089.0" font-size="31" font-weight="normal" font-style="normal" fill="#d4145a" stroke="#d4145a" stroke-width="1.0" font-family="Liberation Sans" textLength="58.1" lengthAdjust="spacingAndGlyphs">46%</text>
<text style="white-space:pre" x="831.2" y="1185.0" font-size="31" font-weight="normal" font-style="normal" fill="#d4145a" stroke="#d4145a" stroke-width="1.0" font-family="Liberation Sans" textLength="58.1" lengthAdjust="spacingAndGlyphs">27%</text>
<text style="white-space:pre" x="956.5" y="1280.6" font-size="31" font-weight="normal" font-style="normal" fill="#d4145a" stroke="#d4145a" stroke-width="1.0" font-family="Liberation Sans" textLength="38.7" lengthAdjust="spacingAndGlyphs">5%</text>
<text style="white-space:pre" x="745.7" y="1376.8" font-size="31" font-weight="normal" font-style="normal" fill="#d4145a" stroke="#d4145a" stroke-width="1.0" font-family="Liberation Sans" textLength="58.3" lengthAdjust="spacingAndGlyphs">69%</text>
<text style="white-space:pre" x="803.8" y="1472.6" font-size="31" font-weight="normal" font-style="normal" fill="#d4145a" stroke="#d4145a" stroke-width="1.0" font-family="Liberation Sans" textLength="59.7" lengthAdjust="spacingAndGlyphs">44%</text>
<text style="white-space:pre" x="1392.3" y="508.8" font-size="31" font-weight="normal" font-style="normal" fill="#d4145a" stroke="#d4145a" stroke-width="1.0" font-family="Liberation Sans" textLength="59.2" lengthAdjust="spacingAndGlyphs">95%</text>
<text style="white-space:pre" x="1446.5" y="609.6" font-size="31" font-weight="normal" font-style="normal" fill="#d4145a" stroke="#d4145a" stroke-width="1.0" font-family="Liberation Sans" textLength="58.4" lengthAdjust="spacingAndGlyphs">78%</text>
<text style="white-space:pre" x="1427.3" y="706.0" font-size="31" font-weight="normal" font-style="normal" fill="#d4145a" stroke="#d4145a" stroke-width="1.0" font-family="Liberation Sans" textLength="60.0" lengthAdjust="spacingAndGlyphs">64%</text>
<text style="white-space:pre" x="1392.5" y="797.0" font-size="31" font-weight="normal" font-style="normal" fill="#d4145a" stroke="#d4145a" stroke-width="1.0" font-family="Liberation Sans" textLength="58.8" lengthAdjust="spacingAndGlyphs">63%</text>
<text style="white-space:pre" x="1393.3" y="896.9" font-size="31" font-weight="normal" font-style="normal" fill="#d4145a" stroke="#d4145a" stroke-width="1.0" font-family="Liberation Sans" textLength="58.0" lengthAdjust="spacingAndGlyphs">58%</text>
<text style="white-space:pre" x="1393.3" y="965.0" font-size="31" font-weight="normal" font-style="normal" fill="#d4145a" stroke="#d4145a" stroke-width="1.0" font-family="Liberation Sans" textLength="57.7" lengthAdjust="spacingAndGlyphs">56%</text>
<text style="white-space:pre" x="1465.5" y="1089.7" font-size="31" font-weight="normal" font-style="normal" fill="#d4145a" stroke="#d4145a" stroke-width="1.0" font-family="Liberation Sans" textLength="59.8" lengthAdjust="spacingAndGlyphs">44%</text>
<text style="white-space:pre" x="1484.5" y="1185.0" font-size="31" font-weight="normal" font-style="normal" fill="#d4145a" stroke="#d4145a" stroke-width="1.0" font-family="Liberation Sans" textLength="60.0" lengthAdjust="spacingAndGlyphs">64%</text>
<text style="white-space:pre" x="1417.5" y="1281.3" font-size="31" font-weight="normal" font-style="normal" fill="#d4145a" stroke="#d4145a" stroke-width="1.0" font-family="Liberation Sans" textLength="59.9" lengthAdjust="spacingAndGlyphs">42%</text>
<text style="white-space:pre" x="1400.3" y="1378.0" font-size="31" font-weight="normal" font-style="normal" fill="#d4145a" stroke="#d4145a" stroke-width="1.0" font-family="Liberation Sans" textLength="58.8" lengthAdjust="spacingAndGlyphs">28%</text>
<text style="white-space:pre" x="1453.0" y="1473.0" font-size="31" font-weight="normal" font-style="normal" fill="#d4145a" stroke="#d4145a" stroke-width="1.0" font-family="Liberation Sans" textLength="57.8" lengthAdjust="spacingAndGlyphs">27%</text>
<text style="white-space:pre" x="1448.9" y="1569.3" font-size="31" font-weight="normal" font-style="normal" fill="#d4145a" stroke="#d4145a" stroke-width="1.0" font-family="Liberation Sans" textLength="58.6" lengthAdjust="spacingAndGlyphs">13%</text>
<text style="white-space:pre" x="1470.5" y="1665.5" font-size="31" font-weight="normal" font-style="normal" fill="#d4145a" stroke="#d4145a" stroke-width="1.0" font-family="Liberation Sans" textLength="39.0" lengthAdjust="spacingAndGlyphs">5%</text>
<text style="white-space:pre" x="810.8" y="849.4" font-size="23" font-weight="normal" font-style="normal" fill="#8a3a84" stroke="#8a3a84" stroke-width="0.75" font-family="Liberation Sans" textLength="76.5" lengthAdjust="spacingAndGlyphs">(2009)</text>
<text style="white-space:pre" x="858.5" y="942.6" font-size="23" font-weight="normal" font-style="normal" fill="#8a3a84" stroke="#8a3a84" stroke-width="0.75" font-family="Liberation Sans" textLength="76.9" lengthAdjust="spacingAndGlyphs">(2011)</text>
<text style="white-space:pre" x="906.5" y="1332.0" font-size="23" font-weight="normal" font-style="normal" fill="#8a3a84" stroke="#8a3a84" stroke-width="0.75" font-family="Liberation Sans" textLength="77.0" lengthAdjust="spacingAndGlyphs">(2012)</text>
<text style="white-space:pre" x="719.0" y="1790.9" font-size="24" font-weight="bold" font-style="normal" fill="#3a3a3a" font-family="Liberation Sans" textLength="79.5" lengthAdjust="spacingAndGlyphs">Source:</text>
<text style="white-space:pre" x="802.9" y="1790.9" font-size="24" font-weight="normal" font-style="normal" fill="#474747" font-family="Liberation Sans" textLength="743.8" lengthAdjust="spacingAndGlyphs">Ofcom Technology Tracker. Data from Quarter 1 of each year 2007-2014,</text>
<text style="white-space:pre" x="719.0" y="1821.3" font-size="24" font-weight="normal" font-style="normal" fill="#474747" font-family="Liberation Sans" textLength="243.0" lengthAdjust="spacingAndGlyphs">then Half 1 2015-2018.</text>
<text style="white-space:pre" x="719.0" y="1851.7" font-size="24" font-weight="bold" font-style="normal" fill="#3a3a3a" font-family="Liberation Sans" textLength="59.0" lengthAdjust="spacingAndGlyphs">Base:</text>
<text style="white-space:pre" x="781.1" y="1851.7" font-size="24" font-weight="normal" font-style="normal" fill="#474747" font-family="Liberation Sans" textLength="804.3" lengthAdjust="spacingAndGlyphs">All adults aged 16+ (2018 n=3730). Note: The Question wording for DVD Player</text>
<text style="white-space:pre" x="719.0" y="1882.1" font-size="24" font-weight="normal" font-style="normal" fill="#474747" font-family="Liberation Sans" textLength="836.0" lengthAdjust="spacingAndGlyphs">and DVR was changed in Q1 2009 so data is not directly comparable with previous</text>
<text style="white-space:pre" x="719.0" y="1912.5" font-size="24" font-weight="normal" font-style="normal" fill="#474747" font-family="Liberation Sans" textLength="807.1" lengthAdjust="spacingAndGlyphs">years. *Internet-connected dongle or set-top box includes NOW TV set-top box,</text>
<text style="white-space:pre" x="719.0" y="1942.9" font-size="24" font-weight="normal" font-style="normal" fill="#474747" font-family="Liberation Sans" textLength="712.9" lengthAdjust="spacingAndGlyphs">Roku, Google Chrome, Amazon Fire TV stick, Amazon Fire TV, Apple TV</text>
<text style="white-space:pre" x="719.0" y="1973.3" font-size="24" font-weight="normal" font-style="normal" fill="#474747" font-family="Liberation Sans" textLength="857.0" lengthAdjust="spacingAndGlyphs">**Smart watch question wording amended in H1 2018 to add ‘or wearable tech such</text>
<text style="white-space:pre" x="719.0" y="2003.7" font-size="24" font-weight="normal" font-style="normal" fill="#474747" font-family="Liberation Sans" textLength="746.2" lengthAdjust="spacingAndGlyphs">as fitness trackers’ so data is not directly comparable with previous years.</text>
<text style="white-space:pre" x="46.5" y="1780.0" font-size="22" font-weight="bold" font-style="normal" fill="#ffffff" font-family="Liberation Sans" textLength="25.5" lengthAdjust="spacingAndGlyphs">24</text>
<text style="white-space:pre" x="172.4" y="2144.7" font-size="15" font-weight="normal" font-style="normal" fill="#505050" font-family="Liberation Sans" textLength="411.1" lengthAdjust="spacingAndGlyphs"><tspan font-size="10" dy="-5">19</tspan><tspan dy="5"> Android is a mobile operating system developed by Google.</tspan></text>
<text style="white-space:pre" x="172.4" y="2172.8" font-size="15" font-weight="normal" font-style="normal" fill="#505050" font-family="Liberation Sans" textLength="515.1" lengthAdjust="spacingAndGlyphs"><tspan font-size="10" dy="-5">20</tspan><tspan dy="5"> A smart TV is a stand-alone television set with inbuilt internet functionality.</tspan></text>
</svg>
</body></html>
